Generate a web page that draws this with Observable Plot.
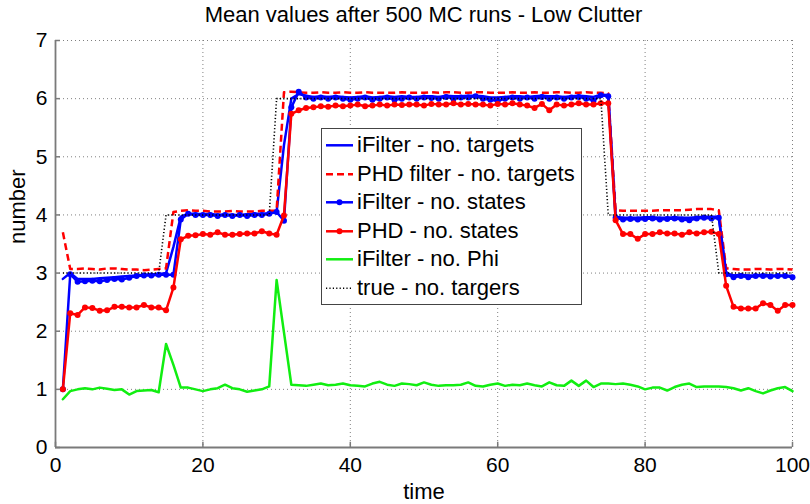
<!DOCTYPE html>
<html>
<head>
<meta charset="utf-8">
<script src="https://cdn.jsdelivr.net/npm/d3@7"></script>
<script src="https://cdn.jsdelivr.net/npm/@observablehq/plot@0.6"></script>
<style>
  html, body { margin: 0; padding: 0; background: #fff; }
  #wrap { position: relative; width: 810px; height: 504px; font-family: "Liberation Sans", Arial, Helvetica, sans-serif; color: #000; }
  #title { position: absolute; left: 55px; width: 737px; top: 0; height: 30px; line-height: 30px; text-align: center; font-size: 22px; }
  #chart { position: absolute; left: 0; top: 30px; }
  #legend { position: absolute; left: 321px; top: 128px; width: 259px; height: 173px; border: 1.2px solid #444; background: #fff; padding-top: 2px; box-sizing: content-box; }
  .row { position: relative; height: 28.6px; line-height: 28.6px; font-size: 22px; white-space: nowrap; }
  .row svg { position: absolute; left: 4px; top: 0; }
  .row span { position: absolute; left: 35px; top: 0; }
</style>
</head>
<body>
<div id="wrap">
  <div id="title">Mean values after 500 MC runs - Low Clutter</div>
  <div id="chart"></div>
  <div id="legend"></div>
</div>
<script>
const time = d3.range(1, 101);
const xTicks = [0, 20, 40, 60, 80, 100];
const yTicks = [0, 1, 2, 3, 4, 5, 6, 7];
const seriesNames = ["iFilter - no. targets", "PHD filter - no. targets", "iFilter - no. states", "PHD - no. states", "iFilter - no. Phi", "true - no. targers"];

const iFilterTargets = [
  2.9, 3.0, 2.9, 2.9, 2.9, 2.91, 2.92, 2.93, 2.94, 2.95, 2.96, 2.97, 2.98, 2.98, 3.0,
  3.45, 3.97, 4.02, 4.02, 4.01, 4.02, 4.0, 4.01, 4.0, 4.0, 4.01, 4.02, 4.02, 4.03, 4.05,
  5.2, 6.0, 6.08, 6.05, 6.03, 6.04, 6.03, 6.04, 6.03, 6.02, 6.03, 6.04, 6.02, 6.03, 6.04,
  6.03, 6.04, 6.03, 6.03, 6.04, 6.04, 6.03, 6.05, 6.04, 6.04, 6.05, 6.05, 6.04, 6.02, 6.02,
  6.03, 6.04, 6.04, 6.03, 6.04, 6.05, 6.04, 6.04, 6.03, 6.04, 6.05, 6.04, 6.03, 6.07, 6.06,
  3.97, 3.95, 3.95, 3.95, 3.96, 3.96, 3.95, 3.95, 3.96, 3.95, 3.95, 3.96, 3.97, 3.97, 3.97,
  3.0, 2.96, 2.97, 2.96, 2.96, 2.97, 2.96, 2.96, 2.96, 2.95
];
const phdTargets = [
  3.7, 3.07, 3.07, 3.08, 3.07, 3.06, 3.08, 3.08, 3.07, 3.06, 3.06, 3.05, 3.06, 3.07, 3.08,
  4.05, 4.07, 4.08, 4.07, 4.07, 4.06, 4.06, 4.06, 4.07, 4.06, 4.06, 4.06, 4.07, 4.07, 4.07,
  6.11, 6.12, 6.11, 6.1, 6.1, 6.11, 6.1, 6.1, 6.11, 6.1, 6.1, 6.11, 6.1, 6.1, 6.1,
  6.1, 6.11, 6.1, 6.1, 6.1, 6.11, 6.1, 6.11, 6.11, 6.1, 6.1, 6.11, 6.11, 6.1, 6.1,
  6.1, 6.11, 6.1, 6.1, 6.11, 6.1, 6.1, 6.11, 6.11, 6.1, 6.1, 6.11, 6.1, 6.1, 6.09,
  4.08, 4.07, 4.07, 4.07, 4.07, 4.07, 4.08, 4.08, 4.08, 4.08, 4.09, 4.1, 4.1, 4.1, 4.08,
  3.08, 3.07, 3.06, 3.06, 3.07, 3.07, 3.06, 3.07, 3.07, 3.06
];
const iFilterStates = [
  1.0, 2.98, 2.85, 2.86, 2.87, 2.86, 2.88, 2.9, 2.89, 2.92, 2.95, 2.96, 2.96, 2.97, 2.97,
  2.97, 3.92, 4.02, 4.0, 4.0, 4.0, 3.98, 4.0, 3.98, 4.0, 3.98, 4.0, 4.0, 4.02, 4.05,
  3.9, 5.85, 6.12, 6.02, 6.0, 6.02, 6.0, 6.02, 6.0, 5.98, 6.0, 6.02, 5.98, 6.0, 6.02,
  5.98, 6.0, 6.02, 6.0, 6.02, 6.01, 6.0, 6.03, 6.0, 6.02, 6.02, 6.04, 6.0, 5.98, 5.96,
  6.0, 6.02, 6.0, 6.02, 6.0, 6.03, 6.0, 6.02, 6.0, 6.02, 6.03, 6.0, 5.97, 6.06, 6.04,
  3.95, 3.92, 3.93, 3.92, 3.93, 3.94, 3.92, 3.93, 3.94, 3.92, 3.91, 3.94, 3.95, 3.94, 3.95,
  2.98, 2.93, 2.95, 2.93, 2.95, 2.95, 2.94, 2.95, 2.95, 2.93
];
const phdStates = [
  1.0, 2.31, 2.28, 2.41, 2.4, 2.35, 2.36, 2.42, 2.42, 2.41, 2.41, 2.45, 2.41, 2.41, 2.36,
  2.75, 3.58, 3.64, 3.65, 3.67, 3.66, 3.7, 3.66, 3.66, 3.67, 3.68, 3.68, 3.72, 3.68, 3.66,
  3.99, 5.74, 5.8, 5.84, 5.85, 5.87, 5.86, 5.88, 5.87, 5.88, 5.9, 5.87, 5.88, 5.9, 5.88,
  5.9, 5.89, 5.9, 5.9, 5.88, 5.91, 5.9, 5.9, 5.92, 5.9, 5.91, 5.9, 5.9, 5.88, 5.91,
  5.9, 5.92, 5.9, 5.88, 5.84, 5.91, 5.8, 5.9, 5.88, 5.9, 5.92, 5.9, 5.9, 5.92, 5.92,
  3.91, 3.67, 3.67, 3.59, 3.67, 3.67, 3.7, 3.68, 3.68, 3.66, 3.7, 3.68, 3.7, 3.71, 3.67,
  2.78, 2.42, 2.39, 2.39, 2.39, 2.48, 2.45, 2.35, 2.45, 2.45
];
const iFilterPhi = [
  0.83, 0.97, 1.0, 1.02, 1.0, 1.03, 1.01, 0.99, 1.0, 0.91, 0.97, 0.98, 0.99, 0.95, 1.78,
  1.42, 1.03, 1.03, 1.0, 0.97, 1.0, 1.02, 1.08, 1.02, 1.0, 0.96, 0.98, 1.0, 1.05, 2.88,
  1.98, 1.08, 1.07, 1.06, 1.08, 1.1, 1.07, 1.08, 1.1, 1.07, 1.06, 1.05, 1.1, 1.13, 1.08,
  1.06, 1.1, 1.09, 1.07, 1.12, 1.08, 1.06, 1.07, 1.07, 1.08, 1.12, 1.06, 1.05, 1.08, 1.1,
  1.06, 1.08, 1.07, 1.1, 1.07, 1.05, 1.12, 1.07, 1.06, 1.15, 1.06, 1.15, 1.04, 1.1, 1.1,
  1.09, 1.1, 1.08, 1.05, 1.0, 1.03, 1.03, 0.98, 1.04, 1.08, 1.1, 1.04, 1.05, 1.05, 1.05,
  1.04, 1.02, 0.98, 1.02, 0.97, 0.93, 0.98, 1.02, 1.04, 0.97
];
const trueTargets = [
  3, 3, 3, 3, 3, 3, 3, 3, 3, 3, 3, 3, 3, 3, 4,
  4, 4, 4, 4, 4, 4, 4, 4, 4, 4, 4, 4, 4, 4, 6,
  6, 6, 6, 6, 6, 6, 6, 6, 6, 6, 6, 6, 6, 6, 6,
  6, 6, 6, 6, 6, 6, 6, 6, 6, 6, 6, 6, 6, 6, 6,
  6, 6, 6, 6, 6, 6, 6, 6, 6, 6, 6, 6, 6, 6, 4,
  4, 4, 4, 4, 4, 4, 4, 4, 4, 4, 4, 4, 4, 4, 3,
  3, 3, 3, 3, 3, 3, 3, 3, 3, 3
];

const styles = [
  {stroke: "#0000ff", strokeWidth: 2.5, dash: null, dots: false},
  {stroke: "#ff0000", strokeWidth: 2.5, dash: "7,4", dots: false},
  {stroke: "#0000ff", strokeWidth: 2.5, dash: null, dots: true},
  {stroke: "#ff0000", strokeWidth: 2.5, dash: null, dots: true},
  {stroke: "#11ee11", strokeWidth: 2.5, dash: null, dots: false},
  {stroke: "#000000", strokeWidth: 1.6, dash: "1.2,2.2", dots: false}
];
const values = [iFilterTargets, phdTargets, iFilterStates, phdStates, iFilterPhi, trueTargets];
const tables = values.map(arr => time.map((t, i) => ({t, v: arr[i]})));

const seriesMarks = [];
tables.forEach((tab, k) => {
  const s = styles[k];
  seriesMarks.push(Plot.line(tab, {x: "t", y: "v", stroke: s.stroke, strokeWidth: s.strokeWidth,
    strokeDasharray: s.dash || undefined, strokeLinejoin: "round", strokeLinecap: s.dash ? "butt" : "round"}));
  if (s.dots) seriesMarks.push(Plot.dot(tab, {x: "t", y: "v", r: 3, fill: s.stroke, stroke: "none"}));
});

const gridColor = "#808080";
const axisColor = "#7a7a7a";
const chart = Plot.plot({
  width: 810, height: 474,
  marginLeft: 55, marginRight: 18, marginTop: 10, marginBottom: 57,
  x: {domain: [0, 100], axis: null},
  y: {domain: [0, 7], axis: null},
  style: {fontFamily: "'Liberation Sans', Arial, Helvetica, sans-serif", fontSize: "21px", color: "#000", background: "#fff", overflow: "visible"},
  marks: [
    Plot.ruleX(xTicks.filter(d => d > 0), {x: d => d, stroke: gridColor, strokeWidth: 1, strokeDasharray: "1,3"}),
    Plot.ruleY(yTicks.filter(d => d > 0), {y: d => d, stroke: gridColor, strokeWidth: 1, strokeDasharray: "1,3"}),
    ...seriesMarks,
    Plot.ruleX([0], {x: d => d, stroke: axisColor, strokeWidth: 1.8}),
    Plot.ruleY([0], {y: d => d, stroke: axisColor, strokeWidth: 1.8}),
    Plot.ruleX(xTicks, {x: d => d, y1: 0, y2: 0.09, stroke: axisColor, strokeWidth: 1.5}),
    Plot.ruleY(yTicks, {y: d => d, x1: 0, x2: 0.68, stroke: axisColor, strokeWidth: 1.5}),
    Plot.text(xTicks, {x: d => d, y: 0, text: d => String(d), dy: 18, lineAnchor: "middle", fontSize: 21}),
    Plot.text(yTicks, {x: 0, y: d => d, text: d => String(d), dx: -8, textAnchor: "end", lineAnchor: "middle", fontSize: 21}),
    Plot.text(["time"], {frameAnchor: "bottom", dy: 44, lineAnchor: "middle", fontSize: 22}),
    Plot.text(["number"], {frameAnchor: "left", dx: -38, rotate: -90, lineAnchor: "middle", fontSize: 22})
  ]
});
document.getElementById("chart").appendChild(chart);

// legend
const legend = document.getElementById("legend");
seriesNames.forEach((name, k) => {
  const s = styles[k];
  const row = document.createElement("div");
  row.className = "row";
  const ns = "http://www.w3.org/2000/svg";
  const svg = document.createElementNS(ns, "svg");
  svg.setAttribute("width", "28");
  svg.setAttribute("height", "28.6");
  const ln = document.createElementNS(ns, "line");
  ln.setAttribute("x1", "0"); ln.setAttribute("x2", "27");
  ln.setAttribute("y1", "14.3"); ln.setAttribute("y2", "14.3");
  ln.setAttribute("stroke", s.stroke);
  ln.setAttribute("stroke-width", s.strokeWidth);
  if (s.dash) ln.setAttribute("stroke-dasharray", s.dash);
  svg.appendChild(ln);
  if (s.dots) {
    const c = document.createElementNS(ns, "circle");
    c.setAttribute("cx", "13.5"); c.setAttribute("cy", "14.3"); c.setAttribute("r", "3");
    c.setAttribute("fill", s.stroke);
    svg.appendChild(c);
  }
  row.appendChild(svg);
  const sp = document.createElement("span");
  sp.textContent = name;
  row.appendChild(sp);
  legend.appendChild(row);
});
</script>
</body>
</html>
